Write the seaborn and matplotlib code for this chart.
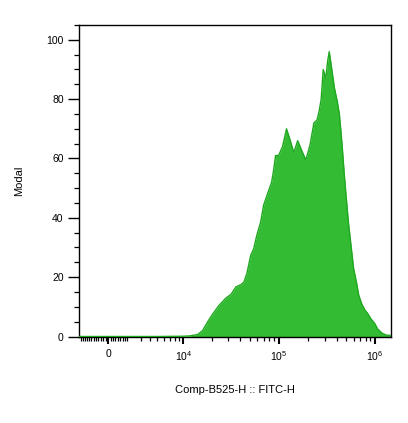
import numpy as np
import pandas as pd
import matplotlib
matplotlib.use("Agg")
import matplotlib.pyplot as plt
import seaborn as sns

# FITC-H intensity (channel value) and modal (% of max) histogram heights
intensity = [-2560, 0, 5000, 1.00e4, 1.18e4, 1.43e4, 1.61e4, 1.81e4, 2.04e4, 2.40e4, 2.84e4,
             3.20e4, 3.60e4, 4.06e4, 4.36e4, 4.68e4, 5.14e4, 5.52e4, 5.93e4,
             6.52e4, 7.00e4, 7.70e4, 8.47e4, 8.88e4, 9.31e4, 1.00e5, 1.10e5,
             1.21e5, 1.31e5, 1.44e5, 1.58e5, 1.75e5, 1.92e5, 2.12e5, 2.33e5,
             2.51e5, 2.64e5, 2.77e5, 2.91e5, 3.09e5, 3.24e5, 3.36e5, 3.61e5,
             3.79e5, 4.08e5, 4.28e5, 4.50e5, 4.61e5, 4.83e5, 5.07e5, 5.33e5,
             5.73e5, 6.01e5, 6.47e5, 6.79e5, 7.30e5, 7.85e5, 8.44e5, 9.08e5,
             1.00e6, 1.07e6, 1.19e6, 1.31e6, 1.47e6]
modal = [0, 0, 0, 0.1, 0.2, 0.7, 2.0, 4.8, 7.4, 10.5, 13.0,
         14.2, 16.7, 17.5, 18.3, 21.2, 27.4, 29.6, 34.0,
         38.6, 44.3, 48.2, 52.0, 56.0, 61.0, 61.0, 64.0,
         70.0, 66.5, 62.0, 66.0, 62.5, 59.5, 64.5, 72.0,
         73.0, 76.0, 80.0, 90.0, 87.0, 93.0, 96.0, 89.0,
         84.0, 79.0, 75.0, 67.0, 62.8, 54.0, 46.0, 38.0,
         29.0, 23.0, 17.9, 14.0, 11.0, 9.0, 7.7, 6.0,
         4.3, 2.5, 1.1, 0.5, 0.3]

major_ticks = [0, 1e4, 1e5, 1e6]
major_labels = ["0", "10$^{4}$", "10$^{5}$", "10$^{6}$"]
y_ticks = [0, 20, 40, 60, 80, 100]

df = pd.DataFrame({"x": intensity, "y": modal})

sns.set_style("ticks")
plt.rcParams["font.family"] = ["Liberation Sans", "DejaVu Sans"]
plt.rcParams["mathtext.fontset"] = "custom"
plt.rcParams["mathtext.rm"] = "Liberation Sans"
plt.rcParams["mathtext.it"] = "Liberation Sans"
plt.rcParams["text.color"] = "black"
plt.rcParams["axes.labelcolor"] = "black"
plt.rcParams["xtick.color"] = "black"
plt.rcParams["ytick.color"] = "black"

fig = plt.figure(figsize=(4.08, 4.23), dpi=100)
ax = fig.add_axes([79 / 408, 1 - 336.5 / 423, (391 - 79) / 408, (336.5 - 25) / 423])

a0 = 3402
ax.set_xscale("asinh", linear_width=a0)

ax.fill_between(df["x"], df["y"], 0, color="#33bb33", linewidth=0, zorder=2)
sns.lineplot(data=df, x="x", y="y", ax=ax, color="#1fa81f", linewidth=1.0,
             sort=False, estimator=None, zorder=3)

ax.set_xlim(-2560, 1.47e6)
ax.set_ylim(0, 105)

minor = [v for v in range(-2400, 1601, 200) if v != 0]
minor += [k * 1000 for k in range(3, 10)]
minor += [k * 10000 for k in range(2, 10)]
minor += [k * 100000 for k in range(2, 10)]
ax.xaxis.set_major_locator(matplotlib.ticker.FixedLocator(major_ticks))
ax.xaxis.set_major_formatter(matplotlib.ticker.FixedFormatter(major_labels))
ax.xaxis.set_minor_locator(matplotlib.ticker.FixedLocator(minor))
ax.xaxis.set_minor_formatter(matplotlib.ticker.NullFormatter())

ax.set_yticks(y_ticks)
ax.yaxis.set_minor_locator(matplotlib.ticker.MultipleLocator(5))

ax.tick_params(axis="x", which="major", length=5, width=1.5, direction="out",
               labelsize=7.5, pad=4, color="black", labelcolor="black")
ax.tick_params(axis="x", which="minor", length=3, width=0.9, direction="out", color="black")
ax.tick_params(axis="y", which="major", length=8, width=1.0, direction="out",
               labelsize=7.5, pad=3, color="black", labelcolor="black")
ax.tick_params(axis="y", which="minor", length=3.5, width=0.9, direction="out", color="black")

for s in ax.spines.values():
    s.set_visible(True)
    s.set_color("black")
    s.set_linewidth(1.0)

ax.set_xlabel("Comp-B525-H :: FITC-H", fontsize=8, labelpad=16, color="black")
ax.set_ylabel("Modal", fontsize=8, labelpad=16, color="black")

fig.savefig("out.png", dpi=100, facecolor="white")
